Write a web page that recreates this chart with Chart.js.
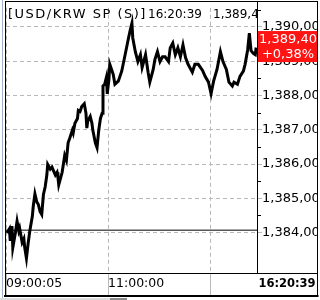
<!DOCTYPE html>
<html><head><meta charset="utf-8">
<script src="https://cdn.jsdelivr.net/npm/chart.js@4"></script>
<style>html,body{margin:0;padding:0;background:#fff}</style>
</head><body>
<canvas id="c" width="320" height="300"></canvas>
<script>
// minutes since 09:00 (x positions of the trace) and prices
const minutes = [1,4,5,7,8,11,13,15,16,19,21,22,24,26,28,31,32,34,36,38,
  40,42,44,46,48,49,52,54,55,58,60,61,62,66,69,71,73,75,78,79,
  81,84,85,87,89,92,94,95,96,99,101,102,105,107,109,111,113,114,116,118,
  119,121,122,126,128,132,136,140,144,146,148,149,152,155,158,160,164,167,169,173,
  175,178,181,184,187,191,193,196,199,202,205,208,211,214,219,222,226,231,234,238,
  241,244,248,252,255,259,262,266,268,272,275,279,281,284,286,288,291,293,294];
const prices = [1383.99,1384.11,1383.76,1384.19,1383.56,1383.99,1384.33,1384.05,1384.13,1383.71,1383.82,1383.56,1383.25,1383.68,1384.05,1384.48,1384.76,1385.13,1384.91,1384.82,
  1384.62,1384.53,1385.11,1385.33,1385.68,1385.99,1385.85,1385.91,1385.85,1385.68,1385.76,1385.62,1385.39,1385.76,1386.25,1386.11,1386.62,1386.76,1386.99,1386.91,
  1387.19,1387.33,1387.56,1387.53,1387.68,1387.76,1387.48,1387.05,1387.25,1387.39,1387.19,1386.99,1386.62,1386.48,1386.99,1387.33,1387.48,1388.28,1388.33,1388.53,
  1388.05,1388.48,1388.91,1388.62,1388.33,1388.42,1388.71,1389.19,1389.68,1389.91,1390.11,1389.68,1389.28,1388.99,1389.19,1388.82,1389.19,1388.68,1388.39,1388.76,
  1389.05,1389.28,1388.99,1389.13,1389.13,1388.99,1389.39,1389.53,1389.19,1389.39,1389.13,1389.48,1389.11,1388.91,1388.68,1388.91,1388.91,1388.73,1388.56,1388.39,
  1388.05,1388.42,1388.76,1389.28,1388.99,1388.76,1388.39,1388.28,1388.39,1388.33,1388.56,1388.71,1388.91,1389.33,1389.82,1389.31,1389.22,1389.19,1389.40];
const prevClose = 1384.07;
const lastPrice = 1389.40;
const yTicks = [1384,1385,1386,1387,1388,1389,1390];
const yMinorTicks = [1384.5,1385.5,1386.5,1387.5,1388.5,1389.5,1390.5];
const xTicks = [0,120,240];
const xTickLabels = ['09:00:05','11:00:00',''];
const titleText = '[USD/KRW SP (S)]';
const titleTime = '16:20:39';
const titlePrice = '1,389,40';
const lastTimeLabel = '16:20:39';
const lastPriceLabel = '1,389,40';
const changeLabel = '+0,38%';

function fmt(v){
  const s = v.toFixed(2); const p = s.split('.');
  return p[0].slice(0,-3) + ',' + p[0].slice(-3) + ',' + p[1];
}

const GRID = '#b8b8b8';
const FONT = 'DejaVu Sans';

const decor = {
  id:'decor',
  beforeDatasetsDraw(chart){
    const {ctx, chartArea:a} = chart;
    ctx.save();
    ctx.beginPath(); ctx.rect(a.left, a.top, a.right - a.left, a.bottom - a.top); ctx.clip();
    ctx.fillStyle = '#000';
    ctx.textBaseline = 'alphabetic';
    ctx.font = '13px "' + FONT + '"';
    ctx.letterSpacing = '1.5px';
    ctx.fillText(titleText, 8, 18);
    ctx.letterSpacing = '0px';
    ctx.font = '12px "' + FONT + '"';
    ctx.fillText(titleTime, 148, 18);
    ctx.fillText(titlePrice, 213, 18);
    ctx.restore();
  },
  afterDraw(chart){
    const {ctx, chartArea:a, scales} = chart;
    const ys = scales.y;
    ctx.save();
    ctx.fillStyle = '#fff';
    ctx.fillRect(318, 0, 2, 300);
    ctx.strokeStyle = '#000'; ctx.lineWidth = 1;
    yMinorTicks.forEach(v => {
      const y = Math.round(ys.getPixelForValue(v)) + 0.5;
      if (y < a.top || y > a.bottom) return;
      ctx.beginPath(); ctx.moveTo(a.right, y); ctx.lineTo(a.right + 4, y); ctx.stroke();
    });
    const cy = ys.getPixelForValue(lastPrice) - 1;
    ctx.fillStyle = '#ff1414';
    ctx.fillRect(a.right + 1, cy - 15.5, 59, 31);
    ctx.fillStyle = '#fff';
    ctx.font = '13px "' + FONT + '"';
    ctx.textAlign = 'center'; ctx.textBaseline = 'middle';
    ctx.fillText(lastPriceLabel, a.right + 31, cy - 7);
    ctx.fillText(changeLabel, a.right + 31, cy + 8.5);
    ctx.strokeStyle = '#000'; ctx.lineWidth = 1;
    ctx.beginPath();
    ctx.moveTo(5, 1.5); ctx.lineTo(318, 1.5);
    ctx.moveTo(5.5, 1); ctx.lineTo(5.5, 297);
    ctx.moveTo(317.5, 1); ctx.lineTo(317.5, 297);
    ctx.moveTo(Math.round(a.right) + 0.5, 1); ctx.lineTo(Math.round(a.right) + 0.5, a.bottom);
    ctx.moveTo(5, Math.round(a.bottom) + 0.5); ctx.lineTo(318, Math.round(a.bottom) + 0.5);
    ctx.stroke();
    ctx.lineWidth = 2;
    ctx.beginPath(); ctx.moveTo(4, 296); ctx.lineTo(318.5, 296); ctx.stroke();
    ctx.strokeStyle = '#9fb3cf'; ctx.lineWidth = 1;
    ctx.beginPath(); ctx.moveTo(2.5, 0); ctx.lineTo(2.5, 298); ctx.stroke();
    ctx.fillStyle = '#dcdcdc'; ctx.fillRect(0, 298, 110, 2);
    ctx.fillStyle = '#8c8c8c'; ctx.fillRect(110, 298, 17, 2);
    ctx.fillStyle = '#000';
    ctx.font = 'bold 11.5px "' + FONT + '"';
    ctx.textAlign = 'center'; ctx.textBaseline = 'middle';
    ctx.fillText(lastTimeLabel, a.right + 30, 284);
    ctx.restore();
  }
};

new Chart(document.getElementById('c'), {
  type:'line',
  data:{datasets:[
    {data: minutes.map((m,i)=>({x:m, y:prices[i]})), borderColor:'#000', borderWidth:3, pointRadius:0, tension:0, order:1},
    {data:[{x:0,y:prevClose},{x:295,y:prevClose}], borderColor:'#000', borderWidth:1, pointRadius:0, order:2}
  ]},
  options:{
    responsive:false, animation:false, devicePixelRatio:1,
    layout:{padding:{left:6,top:2,right:3,bottom:4}},
    plugins:{legend:{display:false}, tooltip:{enabled:false}},
    scales:{
      x:{type:'linear', min:0, max:295,
        afterBuildTicks: s => { s.ticks = xTicks.map(v => ({value:v})); },
        afterFit: s => { s.height = 23; },
        grid:{color:GRID, lineWidth:1, drawTicks:true, tickLength:23, tickColor:GRID},
        border:{display:false, dash:[4,3]},
        ticks:{align:'start', padding:-20, maxRotation:0, autoSkip:false, color:'#000',
          font:{family:FONT, size:12.5}, callback:(v,i) => xTickLabels[i]}},
      y:{position:'right', min:1382.82, max:1390.56,
        afterBuildTicks: s => { s.ticks = yTicks.map(v => ({value:v})); },
        afterFit: s => { s.width = 60; },
        grid:{color:GRID, lineWidth:1, drawTicks:true, tickLength:5, tickColor:GRID},
        border:{display:false, dash:[4,3]},
        ticks:{padding:0, color:'#000', font:{family:FONT, size:13}, callback:v => fmt(v)}}
    }
  },
  plugins:[decor]
});
</script>
</body></html>
